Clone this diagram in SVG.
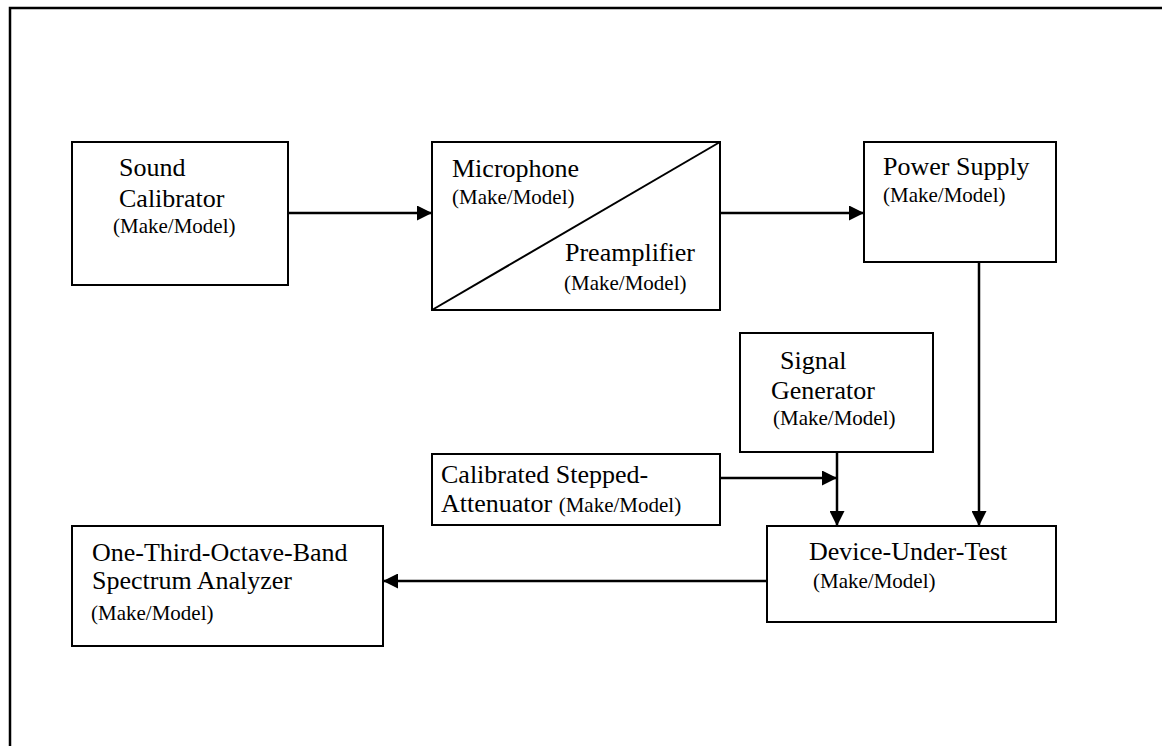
<svg xmlns="http://www.w3.org/2000/svg" width="1162" height="746" viewBox="0 0 1162 746">
<defs>
<marker id="ah" viewBox="0 0 10 10" refX="10" refY="5" markerWidth="6" markerHeight="6" markerUnits="strokeWidth" orient="auto">
<path d="M0,0 L10,5 L0,10 Z" fill="#000"/>
</marker>
<style>
.box{fill:#fff;stroke:#000;stroke-width:2}
.big{font-size:26px;fill:#000}
.small{font-size:21px;fill:#000}
.conn{stroke:#000;stroke-width:2.5;fill:none}
</style>
</defs>
<rect width="1162" height="746" fill="#fff"/>
<path d="M10,760 L10,8 L1170,8" fill="none" stroke="#000" stroke-width="2.5"/>
<g id="connectors">
<line class="conn" x1="288" y1="213" x2="432" y2="213" marker-end="url(#ah)"/>
<line class="conn" x1="720" y1="213" x2="864" y2="213" marker-end="url(#ah)"/>
<line class="conn" x1="979" y1="262" x2="979" y2="526" marker-end="url(#ah)"/>
<line class="conn" x1="837" y1="452" x2="837" y2="526" marker-end="url(#ah)"/>
<line class="conn" x1="720" y1="478" x2="837" y2="478" marker-end="url(#ah)"/>
<line class="conn" x1="767" y1="581" x2="383" y2="581" marker-end="url(#ah)"/>
</g>
<g font-family="'Liberation Serif', Tinos, 'Times New Roman', 'DejaVu Serif', serif">
<g id="sound-calibrator">
<rect class="box" x="72" y="142" width="216" height="143"/>
<text class="big" x="119" y="176">Sound</text>
<text class="big" x="119" y="207">Calibrator</text>
<text class="small" x="113" y="233">(Make/Model)</text>
</g>
<g id="microphone-preamplifier">
<rect class="box" x="432" y="142" width="288" height="168"/>
<line x1="432" y1="310" x2="720" y2="142" stroke="#000" stroke-width="2"/>
<text class="big" x="452" y="177">Microphone</text>
<text class="small" x="452" y="204">(Make/Model)</text>
<text class="big" x="565" y="261">Preamplifier</text>
<text class="small" x="564" y="290">(Make/Model)</text>
</g>
<g id="power-supply">
<rect class="box" x="864" y="142" width="192" height="120"/>
<text class="big" x="883" y="175">Power Supply</text>
<text class="small" x="883" y="202">(Make/Model)</text>
</g>
<g id="signal-generator">
<rect class="box" x="740" y="333" width="193" height="119"/>
<text class="big" x="780" y="369">Signal</text>
<text class="big" x="771" y="399">Generator</text>
<text class="small" x="773" y="425">(Make/Model)</text>
</g>
<g id="stepped-attenuator">
<rect class="box" x="432" y="454" width="288" height="71"/>
<text class="big" x="441" y="483">Calibrated Stepped-</text>
<text x="441" y="512"><tspan class="big">Attenuator </tspan><tspan class="small">(Make/Model)</tspan></text>
</g>
<g id="device-under-test">
<rect class="box" x="767" y="526" width="289" height="96"/>
<text class="big" x="809" y="560">Device-Under-Test</text>
<text class="small" x="813" y="588">(Make/Model)</text>
</g>
<g id="spectrum-analyzer">
<rect class="box" x="72" y="526" width="311" height="120"/>
<text class="big" x="92" y="561">One-Third-Octave-Band</text>
<text class="big" x="92" y="589">Spectrum Analyzer</text>
<text class="small" x="91" y="620">(Make/Model)</text>
</g>
</g>
</svg>
